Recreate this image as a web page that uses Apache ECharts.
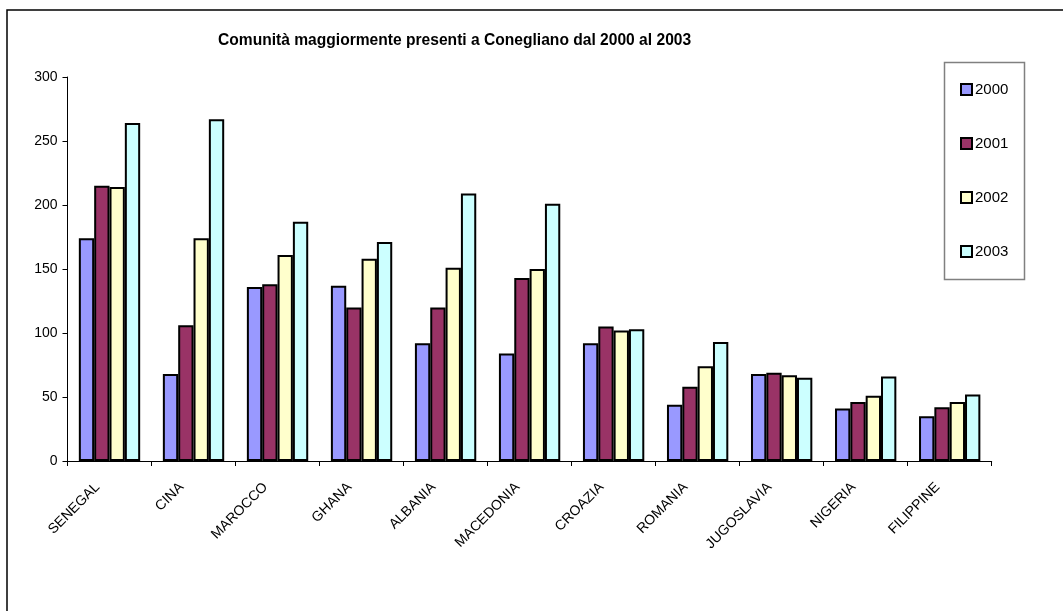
<!DOCTYPE html>
<html>
<head>
<meta charset="utf-8">
<script src="https://cdn.jsdelivr.net/npm/echarts@6/dist/echarts.min.js"></script>
<style>
html,body{margin:0;padding:0;background:#fff;}
#c{width:1063px;height:611px;}
</style>
</head>
<body>
<div id="c"></div>
<script>
var categories = ['SENEGAL','CINA','MAROCCO','GHANA','ALBANIA','MACEDONIA','CROAZIA','ROMANIA','JUGOSLAVIA','NIGERIA','FILIPPINE'];
var years = ['2000','2001','2002','2003'];
var v2000 = [174, 68, 136, 137, 92, 84, 92, 44, 68, 41, 35];
var v2001 = [215, 106, 138, 120, 120, 143, 105, 58, 69, 46, 42];
var v2002 = [214, 174, 161, 158, 151, 150, 102, 74, 67, 51, 46];
var v2003 = [264, 267, 187, 171, 209, 201, 103, 93, 65, 66, 52];
var yTicks = [0, 50, 100, 150, 200, 250, 300];
var titleText = 'Comunità maggiormente presenti a Conegliano dal 2000 al 2003';

var colors = ['#9999FF', '#993366', '#FFFFCC', '#CCFFFF'];
var seriesData = [v2000, v2001, v2002, v2003];
var FONT = 'Liberation Sans, Arial, sans-serif';

var chart = echarts.init(document.getElementById('c'));
var series = years.map(function (y, i) {
  return {
    name: y,
    type: 'bar',
    data: seriesData[i],
    barGap: '0%',
    barCategoryGap: '27%',
    itemStyle: { color: colors[i], borderColor: '#000', borderWidth: 2 },
    emphasis: { disabled: true }
  };
});

chart.setOption({
  animation: false,
  backgroundColor: '#fff',
  title: {
    text: titleText,
    left: 213,
    top: 28,
    textStyle: { fontFamily: FONT, fontSize: 15.6, fontWeight: 'bold', color: '#000' }
  },
  graphic: [
    { type: 'rect', shape: { x: 7, y: 10, width: 1100, height: 700 }, style: { fill: 'none', stroke: '#000', lineWidth: 1.5 }, z: -10 },
    { type: 'rect', shape: { x: 944.5, y: 62.5, width: 80, height: 217 }, style: { fill: '#fff', stroke: '#808080', lineWidth: 1.5 }, z: 0 }
  ],
  legend: {
    orient: 'vertical',
    left: 960,
    top: 82,
    padding: 0,
    itemWidth: 11,
    itemHeight: 11,
    itemGap: 39,
    data: years,
    icon: 'rect',
    itemStyle: { borderColor: '#000', borderWidth: 2 },
    textStyle: { fontFamily: FONT, fontSize: 15, color: '#000', padding: [0, 0, 0, -2] },
    selectedMode: false,
    z: 5
  },
  grid: { left: 67.5, right: 71.3, top: 77, bottom: 150, containLabel: false },
  xAxis: {
    type: 'category',
    data: categories,
    boundaryGap: true,
    axisLine: { lineStyle: { color: '#000', width: 1 } },
    axisTick: { show: true, alignWithLabel: false, length: 5, lineStyle: { color: '#000' } },
    axisLabel: { rotate: 45, margin: 12, padding: [0, 17, 0, 0], fontFamily: FONT, fontSize: 14, color: '#000', interval: 0 }
  },
  yAxis: {
    type: 'value',
    min: yTicks[0],
    max: yTicks[yTicks.length - 1],
    interval: yTicks[1] - yTicks[0],
    axisLine: { show: true, lineStyle: { color: '#000', width: 1 } },
    axisTick: { show: true, length: 5, lineStyle: { color: '#000' } },
    splitLine: { show: false },
    axisLabel: { margin: 10, fontFamily: FONT, fontSize: 14, color: '#000' }
  },
  series: series
});
</script>
</body>
</html>
